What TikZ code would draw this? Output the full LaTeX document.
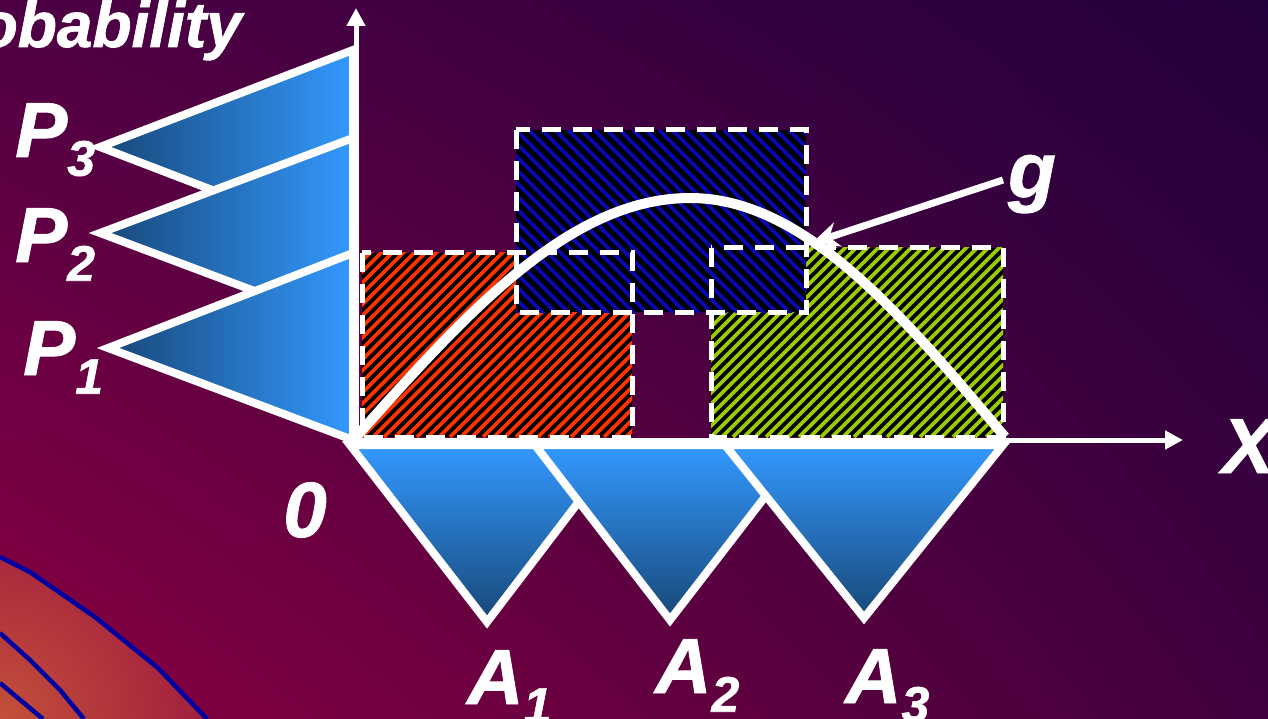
\documentclass[tikz,border=0pt]{standalone}
\usepackage{fontspec}
\setmainfont{Liberation Sans}
\newfontfamily\lblfont{Liberation Sans Bold Italic}[FakeBold=1.2]
\usetikzlibrary{arrows.meta,shadings}
\definecolor{bgUL}{HTML}{4E0044}
\definecolor{bgUR}{HTML}{23003D}
\definecolor{bgLL}{HTML}{8C0040}
\definecolor{bgLR}{HTML}{40003F}
\definecolor{tdark}{HTML}{184777}
\definecolor{tlight}{HTML}{3399FF}
\definecolor{hred}{HTML}{FF3300}
\definecolor{hblue}{HTML}{0808B4}
\definecolor{hgreen}{HTML}{99CC00}
\definecolor{contour}{HTML}{0000A0}
\definecolor{warm}{HTML}{C4503A}
\begin{document}
\begin{tikzpicture}[x=1pt,y=-1pt,
  tri/.style={draw=white, line width=8pt, line join=miter},
  ptri/.style={tri, left color=tdark, right color=tlight},
  atri/.style={tri, top color=tlight, bottom color=tdark},
  dashbox/.style={draw=white, line width=5pt, dash pattern=on 19pt off 12pt},
  stripe/.style={line width=3.8pt},
  lbl/.style={text=white, font=\lblfont\fontsize{78}{78}\selectfont, inner sep=0pt},
  contourline/.style={draw=contour, line width=4.5pt, line join=round},
  axisline/.style={draw=white, line width=5pt, -{Triangle[length=18pt,width=18pt]}}
  ]
\useasboundingbox (0,0) rectangle (1268,719);
% background
\shade[upper left=bgUL, upper right=bgUR, lower left=bgLL, lower right=bgLR] (0,0) rectangle (1268,719);
% warm corner
\begin{scope}
\clip (0,557) -- (30,572) -- (95,617) -- (158,668) -- (207,719) -- (0,719) -- cycle;
\shade[inner color=warm, outer color=bgLL] (0,719) circle (330);
\end{scope}
\draw[contourline] (0,557) -- (30,572) -- (95,617) -- (158,668) -- (207,719);
\draw[contourline] (0,633) -- (30,660) -- (60,690) -- (84,719);
\draw[contourline] (0,683) -- (43,719);
% P triangles
\path[ptri] (100,147) -- (353,50) -- (353,244) -- cycle;
\path[ptri] (100,233) -- (353,138) -- (353,328) -- cycle;
\path[ptri] (108,348) -- (353,253) -- (353,440) -- cycle;
% hatched boxes
\begin{scope}
\clip (362,253) rectangle (632,437);
\fill[black] (362,253) rectangle (632,437);
\foreach \k in {-198,-187,...,280} \draw[stripe, hred] (362+\k,437) -- ++(200,-200);
\end{scope}
\begin{scope}
\clip (711,248) rectangle (1003,437);
\fill[black] (711,248) rectangle (1003,437);
\foreach \k in {-198,-187,...,300} \draw[stripe, hgreen] (711+\k,437) -- ++(200,-200);
\end{scope}
\begin{scope}
\clip (516,130) rectangle (806,312);
\fill[black] (516,130) rectangle (806,312);
\foreach \k in {-195,-182,...,300} \draw[stripe, hblue] (516+\k,130) -- ++(200,200);
\end{scope}
\path[dashbox] (362,253) rectangle (632,437);
\path[dashbox] (711,248) rectangle (1003,437);
\path[dashbox] (516,130) rectangle (806,312);
% curve g
\draw[white, line width=10pt] (356,437) sin (690,198) cos (1005,437);
% axes
\coordinate (o) at (356,440);
\coordinate (ytip) at (356,8);
\coordinate (xo) at (352,440);
\coordinate (xtip) at (1183,440);
\draw[axisline] (o) -- (ytip);
\draw[axisline] (xo) -- (xtip);
% A triangles
\path[atri] (350,445) -- (622,445) -- (487,622) -- cycle;
\path[atri] (535,445) -- (805,445) -- (670,620) -- cycle;
\path[atri] (725,445) -- (1003,445) -- (864,618) -- cycle;
% g arrow
\coordinate (gtail) at (1003,180);
\coordinate (gtip) at (812,243);
\draw[white, line width=7pt, -{Stealth[length=27pt,width=25pt]}] (gtail) -- (gtip);
% labels
\node[lbl, anchor=base east, font=\lblfont\fontsize{64}{64}\selectfont] (prob) at (242,47) {Probability};
\node[lbl, anchor=base west] (p3) at (15,157) {P\raisebox{-0.24em}{\fontsize{50}{50}\selectfont 3}};
\node[lbl, anchor=base west] (p2) at (15,262) {P\raisebox{-0.24em}{\fontsize{50}{50}\selectfont 2}};
\node[lbl, anchor=base west] (p1) at (23,375) {P\raisebox{-0.24em}{\fontsize{50}{50}\selectfont 1}};
\node[lbl] (zero) at (305,510) {0};
\node[lbl, anchor=base west] (a1) at (467,704) {A\raisebox{-0.24em}{\fontsize{50}{50}\selectfont 1}};
\node[lbl, anchor=base west] (a2) at (655,693) {A\raisebox{-0.24em}{\fontsize{50}{50}\selectfont 2}};
\node[lbl, anchor=base west] (a3) at (845,703) {A\raisebox{-0.24em}{\fontsize{50}{50}\selectfont 3}};
\node[lbl, anchor=base west] (g) at (1008,197) {g};
\node[lbl, anchor=base west] (xl) at (1222,473) {X};
\end{tikzpicture}
\end{document}
